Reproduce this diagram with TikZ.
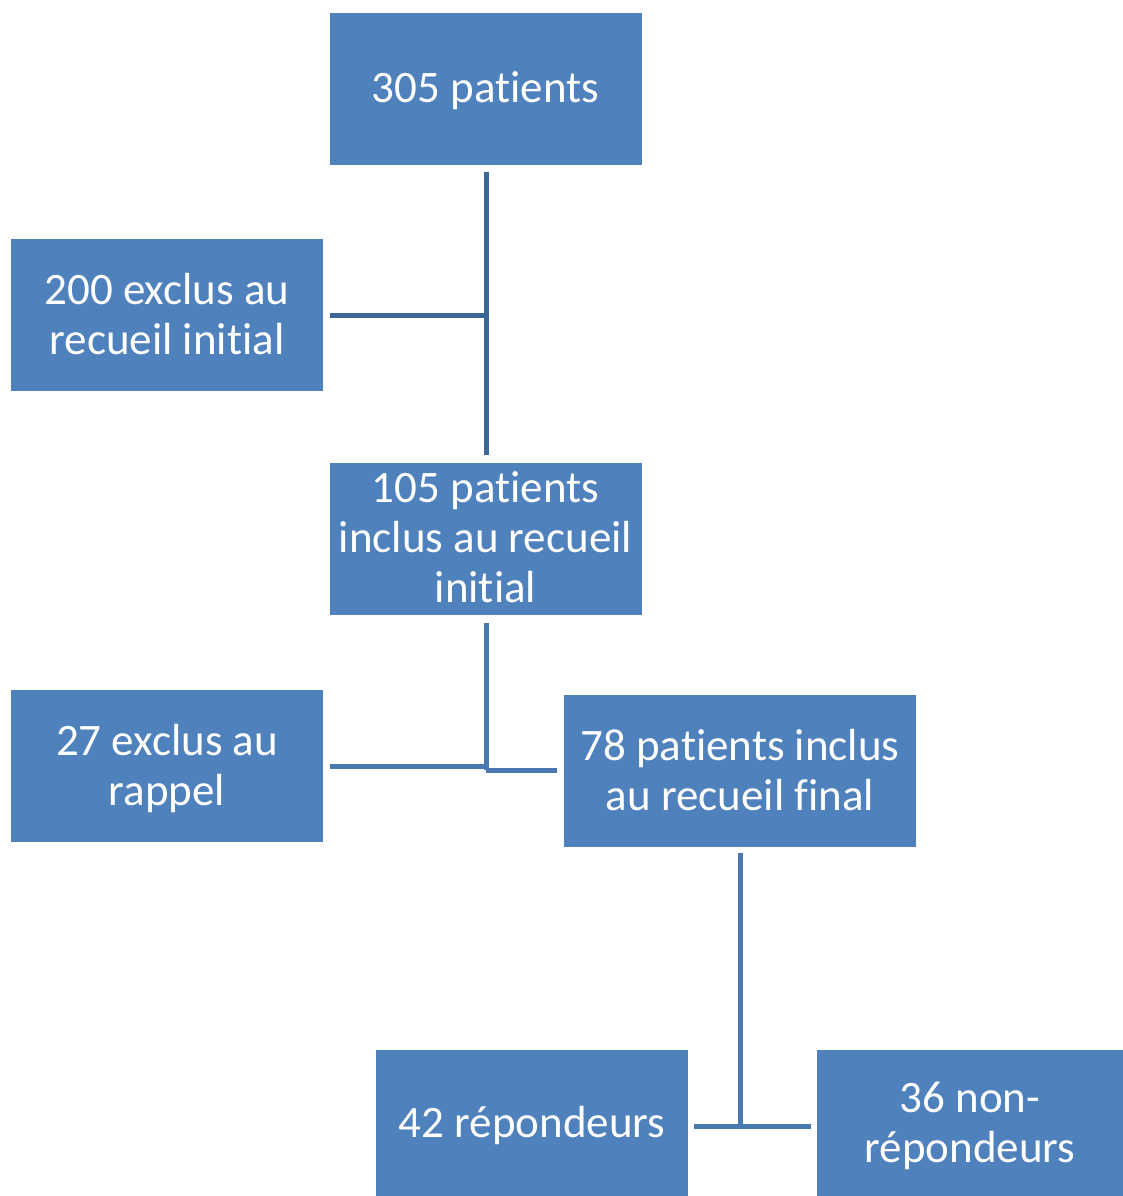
\documentclass[tikz,border=0pt]{standalone}
\usepackage{fontspec}
\setmainfont{Carlito}[Ligatures=NoCommon]
\definecolor{boxblue}{HTML}{4F81BD}
\definecolor{linedark}{HTML}{3D6698}
\definecolor{lineblue}{HTML}{4A78B0}
\newcommand{\sr}{\rule[-8pt]{0pt}{44pt}}
\begin{document}
\begin{tikzpicture}[x=1pt,y=-1pt,
  box/.style={fill=boxblue, draw=none, text=white, align=center, inner sep=0pt,
    font=\fontsize{45}{50}\selectfont},
  conn/.style={line width=5pt}]
\useasboundingbox (0,0) rectangle (1123,1196);
\node[box, minimum width=312pt, minimum height=152pt] (n305) at (485.5,89) {\sr 305 patients};
\node[box, minimum width=312pt, minimum height=152pt] (n200) at (167,315) {\sr 200 exclus au\\\sr recueil initial};
\node[box, minimum width=312pt, minimum height=152pt] (n105) at (485.5,538.5) {\sr 105 patients\\\sr inclus au recueil\\\sr initial};
\node[box, minimum width=312pt, minimum height=152pt] (n27) at (167,766) {\sr 27 exclus au\\\sr rappel};
\node[box, minimum width=352pt, minimum height=152pt] (n78) at (740,771) {\sr 78 patients inclus\\\sr au recueil final};
\node[box, minimum width=312pt, minimum height=146pt] (n42) at (532,1123) {\sr 42 répondeurs};
\node[box, minimum width=306pt, minimum height=146pt] (n36) at (970,1123) {\sr 36 non-\\\sr répondeurs};
\coordinate (j1) at (486,315);
\coordinate (j2) at (486,770);
\coordinate (j2b) at (486,766);
\coordinate (j3) at (740,1126);
\draw[conn, draw=linedark, shorten <=7pt, shorten >=7pt] (n305.south -| j1) -- (n105.north -| j1);
\draw[conn, draw=linedark, shorten <=7pt] (n200.east |- j1) -- (j1);
\draw[conn, draw=lineblue, shorten <=8pt] (n105.south -| j2) -- (j2);
\draw[conn, draw=lineblue, shorten <=7pt] (n27.east |- j2b) -- (j2b);
\draw[conn, draw=lineblue, shorten >=7pt] (j2) -- (n78.west |- j2);
\draw[conn, draw=lineblue, shorten <=6pt] (n78.south -| j3) -- (j3);
\draw[conn, draw=lineblue, shorten <=6pt, shorten >=6pt] (n42.east |- j3) -- (n36.west |- j3);
\end{tikzpicture}
\end{document}
